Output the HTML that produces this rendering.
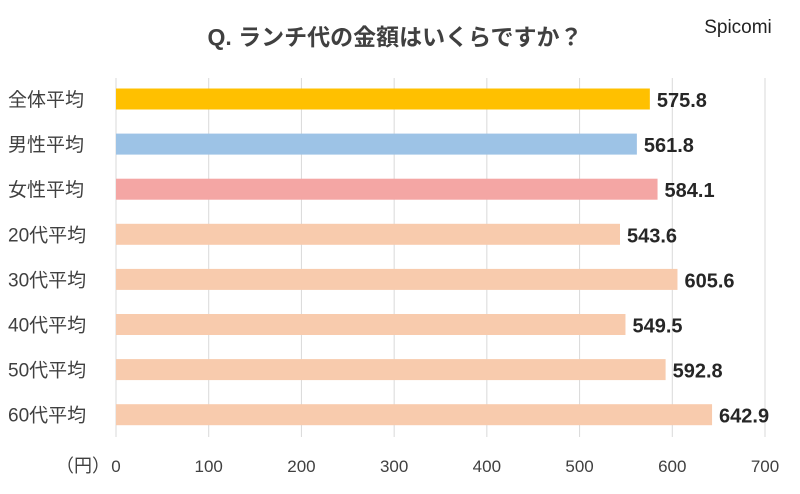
<!DOCTYPE html>
<html><head><meta charset="utf-8"><style>
body{margin:0;background:#fff;width:800px;height:489px;overflow:hidden;font-family:"Liberation Sans","Noto Sans CJK JP",sans-serif}
</style></head><body>
<svg width="800" height="489" xmlns="http://www.w3.org/2000/svg">
<text x="395" y="45" text-anchor="middle" font-size="23" font-weight="bold" fill="#404040" font-family="Liberation Sans, Noto Sans CJK JP, sans-serif">Q. ランチ代の金額はいくらですか？</text>
<text x="738" y="33" text-anchor="middle" font-size="19" fill="#222" font-family="Liberation Sans, sans-serif">Spicomi</text>
<g id="grid"></g><g id="bars"></g><g id="ticks"></g>
<text x="56" y="472" font-size="18" fill="#404040" font-family="Liberation Sans, Noto Sans CJK JP, sans-serif">（円）</text>
</svg>
<script>
const categories=["全体平均","男性平均","女性平均","20代平均","30代平均","40代平均","50代平均","60代平均"];
const values=[575.8,561.8,584.1,543.6,605.6,549.5,592.8,642.9];
const colors=["#ffc000","#9dc3e6","#f4a6a4","#f8cbad","#f8cbad","#f8cbad","#f8cbad","#f8cbad"];
const ticks=[0,100,200,300,400,500,600,700];
const NS="http://www.w3.org/2000/svg";
const x=v=>116+v*(765-116)/700;
const yc=i=>99+i*45.1;
function mk(t,a,p){const e=document.createElementNS(NS,t);for(const k in a)e.setAttribute(k,a[k]);p.appendChild(e);return e;}
const g=document.getElementById('grid'),b=document.getElementById('bars'),tk=document.getElementById('ticks');
ticks.forEach(t=>{
const l=mk('line',{x1:x(t),x2:x(t),y1:78,y2:437,stroke:'#d9d9d9','stroke-width':1},g);


const s=mk('text',{x:x(t),y:472,'text-anchor':'middle','font-size':17,fill:'#404040'},tk);
s.textContent=t;


});
categories.forEach((c,i)=>{
const r=mk('rect',{x:x(0),y:yc(i)-10.5,width:x(values[i])-x(0),height:21,fill:colors[i]},b);


const lb=mk('text',{x:8,y:yc(i)+7,'font-size':19,fill:'#404040'},b);
lb.textContent=c;


const v=mk('text',{x:x(values[i])+7,y:yc(i)+8,'font-size':20,'font-weight':'bold',fill:'#262626'},b);
v.textContent=values[i].toFixed(1);


});
</script>
</body></html>
